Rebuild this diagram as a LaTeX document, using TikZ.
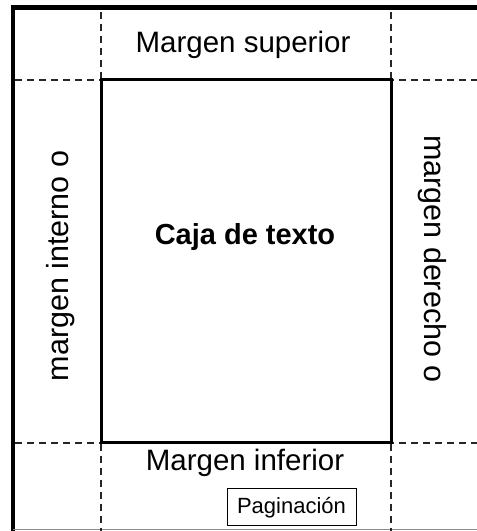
\documentclass[tikz,border=0pt]{standalone}
\usepackage{fontspec}
\setmainfont{Liberation Sans}
\begin{document}
\begin{tikzpicture}[x=1pt,y=1pt,
  guide/.style={line width=1.5pt,dash pattern=on 7pt off 5pt,black!85},
  lbl/.style={inner sep=0pt,font=\fontsize{29.5}{31}\selectfont},
  page/.style={line width=4.5pt,black}]
\useasboundingbox (0,0) rectangle (477,531);
% page edges
\draw[page] (10.5,523.5) -- (477,523.5);
\draw[page] (13,0) -- (13,526);
\draw[black!45,line width=1pt] (13,1) -- (477,1);
% guide lines
\draw[guide] (101,519) -- (101,0);
\draw[guide] (391,519) -- (391,0);
\draw[guide] (15,451) -- (477,451);
\draw[guide] (15,88) -- (477,88);
% text box
\draw[line width=3pt] (101,88) rectangle (391,451);
% labels
\node[lbl] (sup) at (243,486) {Margen superior};
\node[lbl,font=\fontsize{29}{31}\selectfont\bfseries] (caja) at (245,294) {Caja de texto};
\node[lbl] (inf) at (245,68) {Margen inferior};
\node[lbl,font=\fontsize{30.5}{32}\selectfont,rotate=90] (int) at (61,265) {margen interno o};
\node[lbl,font=\fontsize{30.5}{32}\selectfont,rotate=-90] (der) at (432,272) {margen derecho o};
\node[draw,line width=1pt,minimum width=129pt,minimum height=37pt,inner sep=0pt,
  font=\fontsize{22}{24}\selectfont] (pag) at (291.5,23.5) {Paginación};
\end{tikzpicture}
\end{document}
